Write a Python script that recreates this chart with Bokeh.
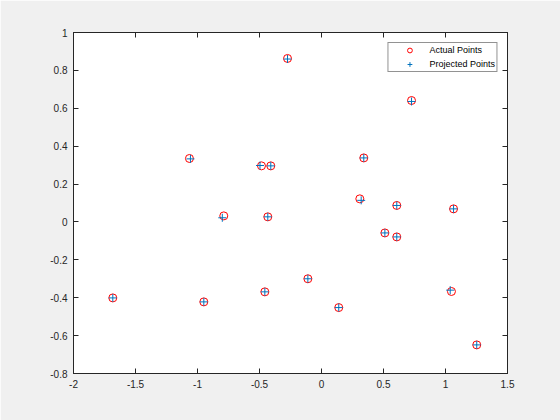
from bokeh.plotting import figure
from bokeh.models import FixedTicker, LinearAxis, Range1d, Legend, LegendItem, ColumnDataSource
from bokeh.embed import file_html
from bokeh.resources import INLINE

# Data
actual_x = [-0.274, 0.726, -1.065, -0.484, -0.409, 0.341, 0.309, 0.607, 1.065, -0.788,
            -0.433, 0.511, 0.607, -0.110, -0.457, -1.683, -0.949, 0.139, 1.048, 1.252]
actual_y = [0.863, 0.641, 0.335, 0.296, 0.296, 0.338, 0.122, 0.087, 0.069, 0.032,
            0.027, -0.058, -0.079, -0.300, -0.369, -0.401, -0.422, -0.452, -0.367, -0.649]
proj_x = [-0.274, 0.726, -1.057, -0.496, -0.409, 0.341, 0.320, 0.607, 1.065, -0.800,
          -0.433, 0.511, 0.607, -0.110, -0.457, -1.683, -0.949, 0.139, 1.038, 1.252]
proj_y = [0.860, 0.636, 0.333, 0.298, 0.296, 0.338, 0.114, 0.087, 0.069, 0.022,
          0.027, -0.058, -0.079, -0.300, -0.369, -0.401, -0.422, -0.452, -0.360, -0.649]

x_ticks = [-2, -1.5, -1, -0.5, 0, 0.5, 1, 1.5]
x_tick_labels = ["-2", "-1.5", "-1", "-0.5", "0", "0.5", "1", "1.5"]
y_ticks = [-0.8, -0.6, -0.4, -0.2, 0, 0.2, 0.4, 0.6, 0.8, 1]
y_tick_labels = ["-0.8", "-0.6", "-0.4", "-0.2", "0", "0.2", "0.4", "0.6", "0.8", "1"]

FONT = "Liberation Sans"
AX = "#262626"

p = figure(width=560, height=420, output_backend="svg", toolbar_location=None,
           x_range=Range1d(-2, 1.5), y_range=Range1d(-0.8, 1),
           min_border_left=73, min_border_right=53, min_border_top=32, min_border_bottom=47,
           x_axis_location=None, y_axis_location=None)
p.background_fill_color = "white"
p.border_fill_color = "#F0F0F0"
p.outline_line_color = AX
p.outline_line_width = 1
p.xgrid.visible = False
p.ygrid.visible = False

def make_axis(ticks, labels, show_labels):
    ax = LinearAxis(ticker=FixedTicker(ticks=ticks))
    ax.major_label_overrides = {t: l for t, l in zip(ticks, labels)}
    ax.major_tick_in = 5
    ax.major_tick_out = 0
    ax.minor_tick_in = 0
    ax.minor_tick_out = 0
    ax.axis_line_color = AX
    ax.major_tick_line_color = AX
    ax.major_label_text_font = FONT
    ax.major_label_text_font_size = "10px"
    ax.major_label_text_color = AX
    ax.major_label_standoff = 6
    if not show_labels:
        ax.major_label_text_alpha = 0
        ax.major_label_text_font_size = "1px"
    return ax

p.add_layout(make_axis(x_ticks, x_tick_labels, True), "below")
p.add_layout(make_axis(y_ticks, y_tick_labels, True), "left")
p.add_layout(make_axis(x_ticks, x_tick_labels, False), "above")
p.add_layout(make_axis(y_ticks, y_tick_labels, False), "right")

src_a = ColumnDataSource(dict(x=actual_x, y=actual_y))
src_p = ColumnDataSource(dict(x=proj_x, y=proj_y))
r1 = p.scatter("x", "y", source=src_a, marker="circle", size=8, fill_color=None,
               line_color="#FF0000", line_width=1)
r2 = p.scatter("x", "y", source=src_p, marker="cross", size=8,
               line_color="#0072BD", line_width=1)

legend = Legend(items=[LegendItem(label="Actual Points", renderers=[r1]),
                       LegendItem(label="Projected Points", renderers=[r2])],
                location="top_right")
legend.label_text_font = FONT
legend.label_text_font_size = "9px"
legend.label_text_color = "black"
legend.label_height = 12
legend.glyph_height = 12
legend.glyph_width = 40
legend.label_standoff = 0
legend.spacing = 2
legend.padding = 1
legend.margin = 10
legend.border_line_color = AX
legend.border_line_width = 1
legend.background_fill_color = "white"
legend.background_fill_alpha = 1
p.add_layout(legend)

html = file_html(p, INLINE)
html = html.replace("<body>", '<body style="background:#F0F0F0;">', 1)
open("out.html", "w").write(html)
